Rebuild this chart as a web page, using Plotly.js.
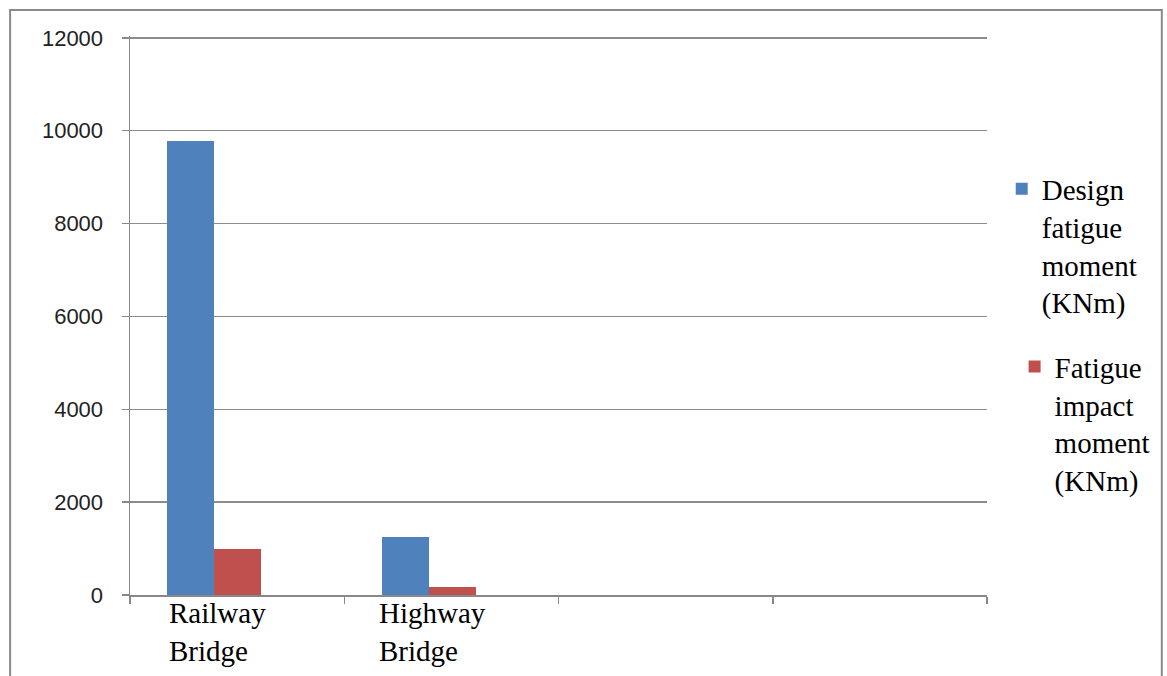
<!DOCTYPE html>
<html>
<head>
<meta charset="utf-8">
<script src="https://cdn.plot.ly/plotly-3.0.1.min.js"></script>
<style>html,body{margin:0;padding:0;background:#fff;}#chart{width:1167px;height:676px;}</style>
</head>
<body>
<div id="chart"></div>
<script>
const categories = ["Railway Bridge", "Highway Bridge"];
const slotCount = 4;
const designMoment = [9780, 1250];
const impactMoment = [990, 180];
const seriesNames = ["Design<br>fatigue<br>moment<br>(KNm)", "Fatigue<br>impact<br>moment<br>(KNm)"];
const yTicks = [0, 2000, 4000, 6000, 8000, 10000, 12000];

const xIdx = categories.map((c, i) => i);
const serif = "'Liberation Serif', 'Times New Roman', Times, serif";

const traces = [
  {type: "bar", x: xIdx, y: designMoment, name: seriesNames[0], marker: {color: "#4F81BD"},
   width: 0.219, offset: -0.325, legend: "legend", hoverinfo: "y"},
  {type: "bar", x: xIdx, y: impactMoment, name: seriesNames[1], marker: {color: "#C0504D"},
   width: 0.219, offset: -0.106, legend: "legend2", hoverinfo: "y"}
];

const boundaries = [];
for (let i = 0; i <= slotCount; i++) boundaries.push(i - 0.5);

const annotations = categories.map((c, i) => ({
  x: i - 0.09, xref: "x", y: 0, yref: "paper", yanchor: "top", xanchor: "center",
  align: "left", yshift: 0, showarrow: false,
  text: c.replace(" ", "<br>"),
  font: {family: serif, size: 29, color: "#000"}
}));

const layout = {
  width: 1167, height: 676,
  margin: {l: 130, r: 179, t: 36, b: 81},
  paper_bgcolor: "#fff", plot_bgcolor: "#fff",
  showlegend: true,
  bargap: 0,
  xaxis: {
    type: "linear", range: [-0.5, slotCount - 0.5],
    tickvals: boundaries, ticktext: boundaries.map(() => ""),
    ticks: "outside", ticklen: 7, tickcolor: "#888", tickwidth: 1.5,
    showgrid: false, zeroline: false,
    showline: true, linecolor: "#888", linewidth: 1.5, fixedrange: true
  },
  yaxis: {
    range: [0, 12040], tickvals: yTicks, ticktext: yTicks.map(String),
    ticks: "outside", ticklen: 7, tickcolor: "#888", tickwidth: 1.5,
    showgrid: true, gridcolor: "#8c8c8c", gridwidth: 1.5,
    zeroline: false, showline: true, linecolor: "#888", linewidth: 1.5,
    ticklabelstandoff: 14,
    tickfont: {family: "Liberation Sans", size: 22, color: "#222"},
    fixedrange: true
  },
  legend: {
    x: 1.016, y: 0.772, xanchor: "left", yanchor: "top", valign: "top",
    bgcolor: "rgba(0,0,0,0)", font: {family: serif, size: 29, color: "#000"}
  },
  legend2: {
    x: 1.031, y: 0.454, xanchor: "left", yanchor: "top", valign: "top",
    bgcolor: "rgba(0,0,0,0)", font: {family: serif, size: 29, color: "#000"}
  },
  annotations: annotations,
  shapes: [{
    type: "rect", xref: "paper", yref: "paper",
    x0: -0.1399, x1: 1.2040, y0: -0.2, y1: 1.0465,
    line: {color: "#8a8a8a", width: 2}, layer: "above"
  }]
};

Plotly.newPlot("chart", traces, layout, {displayModeBar: false, staticPlot: true});
</script>
</body>
</html>
